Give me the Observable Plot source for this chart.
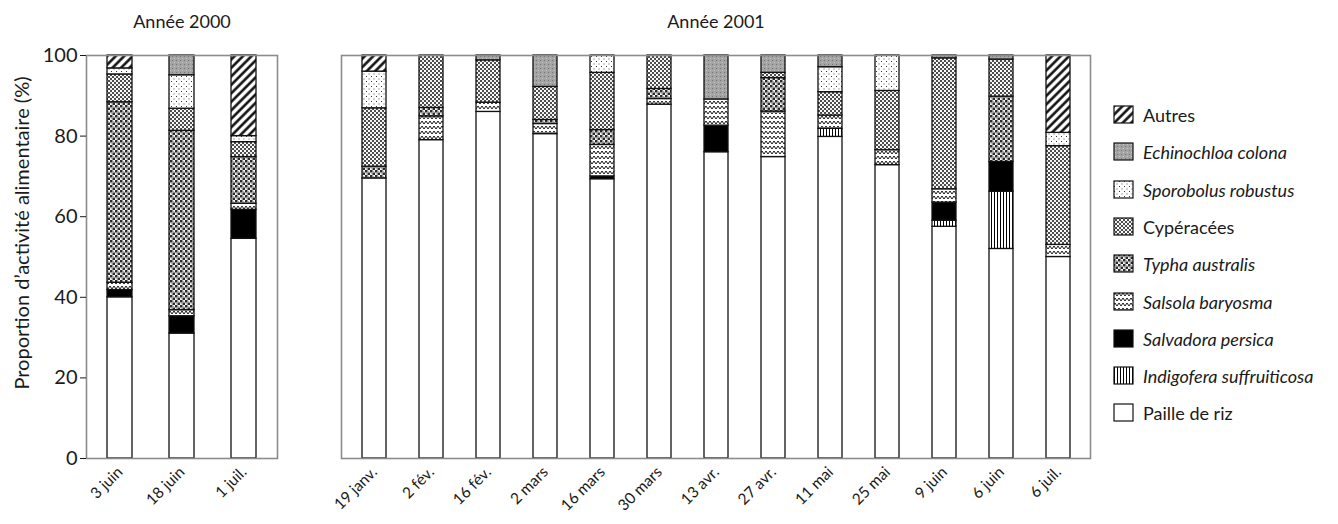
<!DOCTYPE html>
<html><head><meta charset="utf-8">
<script src="https://cdn.jsdelivr.net/npm/d3@7"></script>
<script src="https://cdn.jsdelivr.net/npm/@observablehq/plot@0.6"></script>
<style>
body{margin:0;background:#fff;font-family:Lato,sans-serif;color:#1a1a1a;}
#wrap{position:relative;width:1338px;height:524px;overflow:hidden;}
#p1{position:absolute;left:0;top:0}
#p2{position:absolute;left:300px;top:0}
#legend{position:absolute;left:1113px;top:0;width:225px;height:524px}
.row{position:absolute;left:0;height:20px;display:flex;align-items:center;font-size:18px;white-space:nowrap}
.row svg{margin-right:8px;flex:none}
</style></head><body>
<svg id="defs" width="0" height="0" style="position:absolute">
<defs>
<pattern id="p-autres" width="6" height="6" patternUnits="userSpaceOnUse" patternTransform="rotate(45)"><rect width="6" height="6" fill="#fff"/><line x1="1.5" y1="0" x2="1.5" y2="6" stroke="#000" stroke-width="2.4"/></pattern>
<pattern id="p-echino" width="4" height="4" patternUnits="userSpaceOnUse"><rect width="4" height="4" fill="#a4a4a4"/><rect x="0" y="0" width="1" height="1" fill="#767676"/><rect x="2" y="2" width="1" height="1" fill="#c6c6c6"/></pattern>
<pattern id="p-sporo" width="5" height="5" patternUnits="userSpaceOnUse"><rect width="5" height="5" fill="#fff"/><rect x="1" y="1" width="1" height="1" fill="#333"/><rect x="3.5" y="3.5" width="1" height="1" fill="#555"/></pattern>
<pattern id="p-cyp" width="4" height="4" patternUnits="userSpaceOnUse"><rect width="4" height="4" fill="#fff"/><circle cx="1" cy="1" r="1" fill="#111"/><circle cx="3" cy="3" r="1" fill="#111"/><circle cx="3" cy="1" r="0.4" fill="#666"/></pattern>
<pattern id="p-typha" width="5" height="5" patternUnits="userSpaceOnUse"><rect width="5" height="5" fill="#fff"/><rect width="2.5" height="2.5" fill="#2a2a2a"/><rect x="2.5" y="2.5" width="2.5" height="2.5" fill="#2a2a2a"/><circle cx="3.75" cy="1.25" r="0.5" fill="#666"/><circle cx="1.25" cy="3.75" r="0.5" fill="#666"/></pattern>
<pattern id="p-salsola" width="8" height="5" patternUnits="userSpaceOnUse"><rect width="8" height="5" fill="#fff"/><path d="M0,4 L2,1 L4,4 L6,1 L8,4" fill="none" stroke="#000" stroke-width="0.9"/></pattern>
<pattern id="p-indigo" width="3" height="3" patternUnits="userSpaceOnUse"><rect width="3" height="3" fill="#fff"/><line x1="1.5" y1="0" x2="1.5" y2="3" stroke="#000" stroke-width="1"/></pattern>
</defs>
</svg>
<div id="wrap"><div id="p1"></div><div id="p2"></div><div id="legend"></div></div>
<script>
// Species, stacked bottom to top
const species = ["Paille de riz", "Indigofera suffruiticosa", "Salvadora persica", "Salsola baryosma",
  "Typha australis", "Cypéracées", "Sporobolus robustus", "Echinochloa colona", "Autres"];
const italicSpecies = ["Indigofera suffruiticosa", "Salvadora persica", "Salsola baryosma",
  "Typha australis", "Sporobolus robustus", "Echinochloa colona"];
const fills = ["#fff", "url(#p-indigo)", "#000", "url(#p-salsola)", "url(#p-typha)", "url(#p-cyp)",
  "url(#p-sporo)", "url(#p-echino)", "url(#p-autres)"];

const title2000 = "Année 2000";
const title2001 = "Année 2001";
const yLabel = "Proportion d’activité alimentaire (%)";
const yTicks = [0, 20, 40, 60, 80, 100];

const dates2000 = ["3 juin", "18 juin", "1 juil."];
const dates2001 = ["19 janv.", "2 fév.", "16 fév.", "2 mars", "16 mars", "30 mars", "13 avr.",
  "27 avr.", "11 mai", "25 mai", "9 juin", "6 juin", "6 juil."];
const dates = dates2000.concat(dates2001);

// values (%) in the order of `dates`
const paille      = [40, 31, 54.5, 69.5, 79, 86, 80.5, 69.3, 87.8, 76, 74.8, 79.8, 72.8, 57.5, 52, 50];
const indigofera  = [0, 0, 0, 0, 0, 0, 0, 0, 0, 0, 0, 2, 0, 1.5, 14.2, 0];
const salvadora   = [1.8, 4.3, 7.2, 0, 0, 0, 0, 0.7, 0, 6.6, 0, 0, 0, 4.5, 7.4, 0];
const salsola     = [1.8, 1.5, 1.5, 0, 5.9, 2.3, 2.5, 7.8, 1.4, 6.5, 11.3, 3.3, 3.7, 3.3, 0, 3];
const typha       = [44.8, 44.5, 11.6, 2.9, 2.1, 0, 1, 3.7, 2.5, 0, 8.3, 0, 0, 0, 16.2, 0];
const cyperacees  = [6.9, 5.5, 3.7, 14.5, 13, 10.5, 8.2, 14.2, 8.3, 0, 1.3, 5.8, 14.7, 32.5, 9.2, 24.5];
const sporobolus  = [1.5, 8.3, 1.5, 9.1, 0, 0, 0, 4.3, 0, 0, 0, 6.2, 8.8, 0, 0, 3.3];
const echinochloa = [0, 4.9, 0, 0, 0, 1.2, 7.8, 0, 0, 10.9, 4.3, 2.9, 0, 0.7, 1, 0];
const autres      = [3.2, 0, 20, 4, 0, 0, 0, 0, 0, 0, 0, 0, 0, 0, 0, 19.2];

const series = [paille, indigofera, salvadora, salsola, typha, cyperacees, sporobolus, echinochloa, autres];

const rows = [];
dates.forEach((d, i) => {
  species.forEach((s, j) => {
    const v = series[j][i];
    if (v > 0) rows.push({date: d, species: s, value: v});
  });
});
const rows2000 = rows.filter(r => dates2000.includes(r.date));
const rows2001 = rows.filter(r => dates2001.includes(r.date));

const font = "Lato, 'Open Sans', sans-serif";
const common = {
  height: 524, marginTop: 55, marginBottom: 66,
  color: {domain: species, range: fills},
  style: {fontFamily: font, color: "#1a1a1a", background: "transparent"}
};

const bars = data => Plot.barY(data, {x: "date", y: "value", fill: "species", stroke: "#111", strokeWidth: 1.3});

const p1 = Plot.plot({
  ...common,
  width: 300, marginLeft: 86, marginRight: 23,
  x: {domain: dates2000, paddingInner: 0.6, paddingOuter: 0.33, label: null},
  y: {domain: [0, 100], label: null},
  marks: [
    bars(rows2000),
    Plot.frame({stroke: "#8c8c8c", strokeWidth: 1.6}),
    Plot.axisY({ticks: yTicks, tickSize: 6, tickPadding: 3, fontSize: 20, label: null}),
    Plot.text([yLabel], {text: d => d, frameAnchor: "left", dx: -64, dy: -24, rotate: -90, fontSize: 20, textAnchor: "middle"}),
    Plot.axisX({tickSize: 0, tickRotate: -45, tickPadding: 11, fontSize: 15.5, label: null}),
    Plot.text([title2000], {text: d => d, frameAnchor: "top", dy: -33, fontSize: 18, lineAnchor: "middle"})
  ]
});
document.getElementById("p1").append(p1);

const p2 = Plot.plot({
  ...common,
  width: 800, marginLeft: 41, marginRight: 10,
  x: {domain: dates2001, paddingInner: 0.58, paddingOuter: 0.3, label: null},
  y: {domain: [0, 100], label: null, axis: null},
  marks: [
    bars(rows2001),
    Plot.frame({stroke: "#8c8c8c", strokeWidth: 1.6}),
    Plot.axisX({tickSize: 0, tickRotate: -45, tickPadding: 11, fontSize: 15.5, label: null}),
    Plot.text([title2001], {text: d => d, frameAnchor: "top", dy: -33, fontSize: 18, lineAnchor: "middle"})
  ]
});
document.getElementById("p2").append(p2);

// legend (top = Autres)
const legend = d3.select("#legend");
species.slice().reverse().forEach((s, i) => {
  const j = species.indexOf(s);
  const row = legend.append("div").attr("class", "row").style("top", (105 + i * 37.3) + "px");
  const sv = row.append("svg").attr("width", 22).attr("height", 20);
  sv.append("rect").attr("x", 1).attr("y", 1).attr("width", 19).attr("height", 17)
    .attr("fill", fills[j]).attr("stroke", "#111").attr("stroke-width", 1.2);
  row.append("span").text(s).style("font-style", italicSpecies.includes(s) ? "italic" : "normal");
});
</script>
</body></html>
